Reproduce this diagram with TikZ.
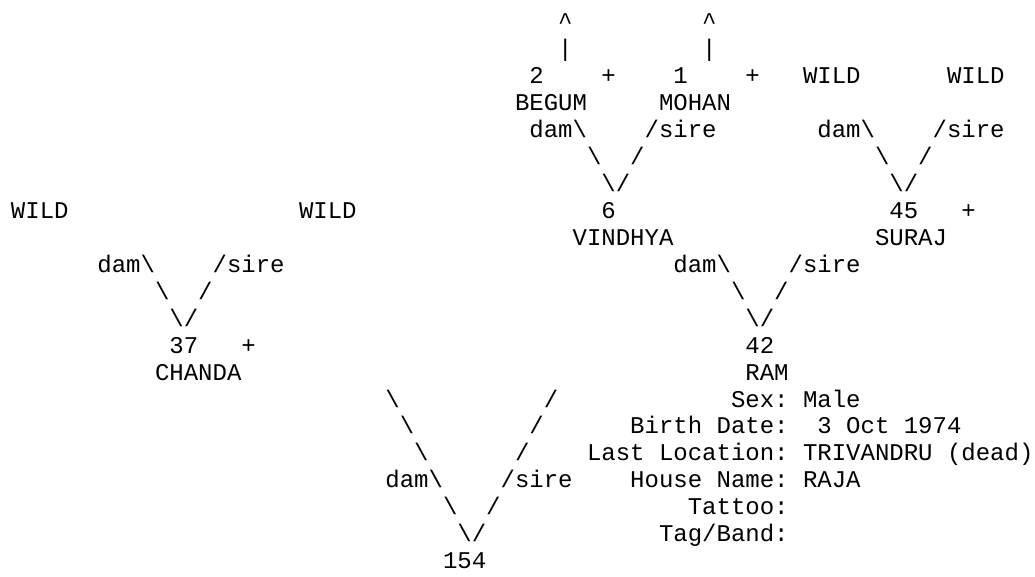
\documentclass[tikz,border=0pt]{standalone}
\usepackage{fontspec}
\newfontfamily\asciimono{Liberation Mono}
\frenchspacing
% place a text chunk at column #2 of line #3
\newcommand\asciiat[4]{\node[txt] (#1) at ({11+14.4*(#2)},{29.7+26.95*((#3)-1)}) {#4};}
\newcommand\bs{\textbackslash}
\begin{document}
\begin{tikzpicture}[x=0.75pt,y=-0.75pt,
  txt/.style={anchor=base west, inner sep=0pt, outer sep=0pt,
    font=\asciimono\fontsize{18pt}{20pt}\selectfont, text=black}]
\useasboundingbox[fill=white] (0,0) rectangle (1035,577);
% line 1-2
\asciiat{upA}{38}{1}{\textasciicircum}
\asciiat{upB}{48}{1}{\textasciicircum}
\asciiat{barA}{38}{2}{|}
\asciiat{barB}{48}{2}{|}
% line 3
\asciiat{id2}{36}{3}{2}
\asciiat{plusA}{41}{3}{+}
\asciiat{id1}{46}{3}{1}
\asciiat{plusB}{51}{3}{+}
\asciiat{wildC}{55}{3}{WILD}
\asciiat{wildD}{65}{3}{WILD}
% line 4
\asciiat{begum}{35}{4}{BEGUM}
\asciiat{mohan}{45}{4}{MOHAN}
% line 5
\asciiat{damSix}{36}{5}{dam\bs}
\asciiat{sireSix}{44}{5}{/sire}
\asciiat{damSuraj}{56}{5}{dam\bs}
\asciiat{sireSuraj}{64}{5}{/sire}
% line 6
\asciiat{lSix}{40}{6}{\bs}
\asciiat{rSix}{43}{6}{/}
\asciiat{lSuraj}{60}{6}{\bs}
\asciiat{rSuraj}{63}{6}{/}
% line 7
\asciiat{vSix}{41}{7}{\bs/}
\asciiat{vSuraj}{61}{7}{\bs/}
% line 8
\asciiat{wildA}{0}{8}{WILD}
\asciiat{wildB}{20}{8}{WILD}
\asciiat{id6}{41}{8}{6}
\asciiat{id45}{61}{8}{45}
\asciiat{plusC}{66}{8}{+}
% line 9
\asciiat{vindhya}{39}{9}{VINDHYA}
\asciiat{suraj}{60}{9}{SURAJ}
% line 10
\asciiat{damChanda}{6}{10}{dam\bs}
\asciiat{sireChanda}{14}{10}{/sire}
\asciiat{damRam}{46}{10}{dam\bs}
\asciiat{sireRam}{54}{10}{/sire}
% line 11
\asciiat{lChanda}{10}{11}{\bs}
\asciiat{rChanda}{13}{11}{/}
\asciiat{lRam}{50}{11}{\bs}
\asciiat{rRam}{53}{11}{/}
% line 12
\asciiat{vChanda}{11}{12}{\bs/}
\asciiat{vRam}{51}{12}{\bs/}
% line 13
\asciiat{id37}{11}{13}{37}
\asciiat{plusD}{16}{13}{+}
\asciiat{id42}{51}{13}{42}
% line 14
\asciiat{chanda}{10}{14}{CHANDA}
\asciiat{ram}{51}{14}{RAM}
% lines 15-21
\asciiat{lA}{26}{15}{\bs}
\asciiat{rA}{37}{15}{/}
\asciiat{sexL}{50}{15}{Sex:}
\asciiat{sexV}{55}{15}{Male}
\asciiat{lB}{27}{16}{\bs}
\asciiat{rB}{36}{16}{/}
\asciiat{birthL}{43}{16}{Birth Date:}
\asciiat{birthV}{56}{16}{3 Oct 1974}
\asciiat{lC}{28}{17}{\bs}
\asciiat{rC}{35}{17}{/}
\asciiat{locL}{40}{17}{Last Location:}
\asciiat{locV}{55}{17}{TRIVANDRU (dead)}
\asciiat{damMain}{26}{18}{dam\bs}
\asciiat{sireMain}{34}{18}{/sire}
\asciiat{houseL}{43}{18}{House Name:}
\asciiat{houseV}{55}{18}{RAJA}
\asciiat{lD}{30}{19}{\bs}
\asciiat{rD}{33}{19}{/}
\asciiat{tattooL}{47}{19}{Tattoo:}
\asciiat{vMain}{31}{20}{\bs/}
\asciiat{tagL}{45}{20}{Tag/Band:}
\asciiat{id154}{30}{21}{154}
\end{tikzpicture}
\end{document}
